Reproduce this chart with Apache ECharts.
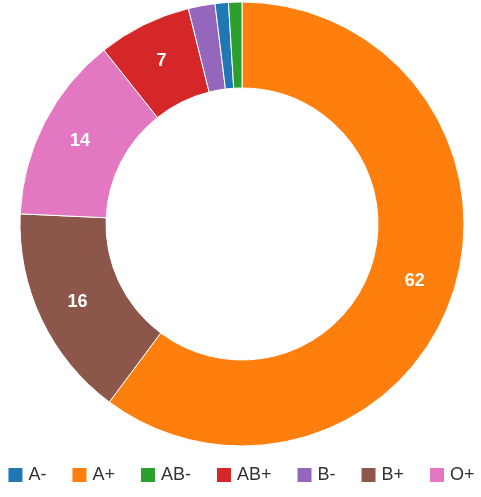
<!DOCTYPE html>
<html>
<head>
<meta charset="utf-8">
<script src="https://cdn.jsdelivr.net/npm/echarts@6/dist/echarts.min.js"></script>
<style>
  html, body { margin: 0; padding: 0; background: #ffffff; }
  #chart { width: 481px; height: 497px; }
</style>
</head>
<body>
<div id="chart"></div>
<script>
// Blood group counts, largest first (drawn clockwise from 12 o'clock)
const groups = ['A+', 'B+', 'O+', 'AB+', 'B-', 'A-', 'AB-'];
const counts = [62, 16, 14, 7, 2, 1, 1];
const groupColors = ['#ff7f0e', '#8c564b', '#e377c2', '#d62728', '#9467bd', '#1f77b4', '#2ca02c'];
// Legend runs in alphabetical order
const legendOrder = ['A-', 'A+', 'AB-', 'AB+', 'B-', 'B+', 'O+'];
// Slices smaller than this carry no value label
const labelMin = 5;

const chart = echarts.init(document.getElementById('chart'), null, { renderer: 'canvas' });

const pieData = groups.map((g, i) => ({
  name: g,
  value: counts[i],
  itemStyle: { color: groupColors[i] },
  label: { show: counts[i] >= labelMin }
}));

chart.setOption({
  animation: false,
  textStyle: { fontFamily: 'Liberation Sans, Arial, sans-serif' },
  legend: {
    data: legendOrder,
    bottom: 8,
    left: 'center',
    icon: 'rect',
    itemWidth: 16,
    itemHeight: 16,
    itemGap: 24,
    textStyle: { fontSize: 18, color: '#333333', fontFamily: 'Liberation Sans, Arial, sans-serif' },
    selectedMode: false
  },
  series: [{
    type: 'pie',
    center: [242, 224],
    radius: [136, 222],
    startAngle: 90,
    clockwise: true,
    avoidLabelOverlap: false,
    silent: true,
    itemStyle: { borderColor: '#ffffff', borderWidth: 1 },
    label: {
      position: 'inside',
      formatter: '{c}',
      color: '#ffffff',
      fontSize: 18,
      fontWeight: 'bold',
      fontFamily: 'Liberation Sans, Arial, sans-serif'
    },
    labelLine: { show: false },
    data: pieData
  }]
});
</script>
</body>
</html>
